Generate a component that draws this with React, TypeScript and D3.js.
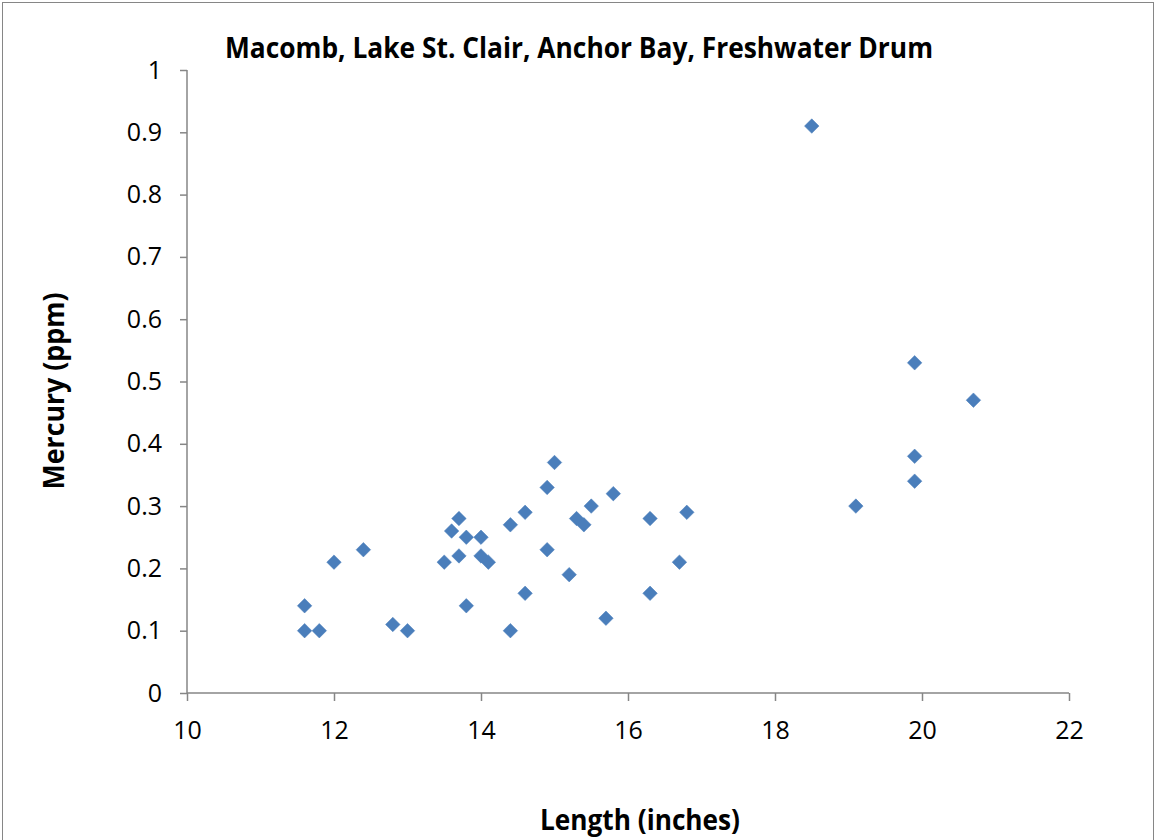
import * as d3 from 'd3';
import { useEffect, useRef } from 'react';

// Freshwater drum samples: length (in) and mercury (ppm)
const lengths = [
  11.6, 11.6, 11.8, 12.0, 12.4, 12.8, 13.0, 13.5, 13.6, 13.7, 13.7, 13.8, 13.8,
  14.0, 14.0, 14.1, 14.4, 14.4, 14.6, 14.6, 14.9, 14.9, 15.0, 15.2, 15.3, 15.4,
  15.5, 15.7, 15.8, 16.3, 16.3, 16.7, 16.8, 18.5, 19.1, 19.9, 19.9, 19.9, 20.7,
];
const mercury = [
  0.14, 0.10, 0.10, 0.21, 0.23, 0.11, 0.10, 0.21, 0.26, 0.28, 0.22, 0.25, 0.14,
  0.25, 0.22, 0.21, 0.27, 0.10, 0.29, 0.16, 0.33, 0.23, 0.37, 0.19, 0.28, 0.27,
  0.30, 0.12, 0.32, 0.28, 0.16, 0.21, 0.29, 0.91, 0.30, 0.53, 0.38, 0.34, 0.47,
];
const xTicks = [10, 12, 14, 16, 18, 20, 22];
const yTicks = [0, 0.1, 0.2, 0.3, 0.4, 0.5, 0.6, 0.7, 0.8, 0.9, 1];

const W = 1156;
const H = 840;
const font = '"Open Sans", sans-serif';

export default function App() {
  const ref = useRef<SVGSVGElement | null>(null);

  useEffect(() => {
    if (!ref.current) return;
    const svg = d3.select(ref.current);
    svg.selectAll('*').remove();

    const x = d3.scaleLinear().domain([10, 22]).range([187, 1069]);
    const y = d3.scaleLinear().domain([0, 1]).range([693, 70]);

    svg.append('rect')
      .attr('x', 0).attr('y', 0).attr('width', W).attr('height', H)
      .attr('fill', '#fff');
    // chart frame
    svg.append('rect')
      .attr('x', 2.5).attr('y', 2.5).attr('width', W - 5).attr('height', H + 10)
      .attr('fill', 'none').attr('stroke', '#868686').attr('stroke-width', 1);

    const axisColor = '#868686';

    const xAxis = svg.append('g')
      .attr('transform', `translate(0,${y(0)})`)
      .call(d3.axisBottom(x).tickValues(xTicks).tickSize(8).tickPadding(20).tickFormat(d3.format('d')));
    const yAxis = svg.append('g')
      .attr('transform', `translate(${x(10)},0)`)
      .call(d3.axisLeft(y).tickValues(yTicks).tickSize(7).tickPadding(18).tickFormat(d => String(+d)));

    [xAxis, yAxis].forEach(a => {
      a.select('.domain').attr('stroke', axisColor).attr('stroke-width', 1.5);
      a.selectAll('.tick line').attr('stroke', axisColor).attr('stroke-width', 1.5);
      a.selectAll('.tick text')
        .attr('fill', '#000')
        .style('font-family', font)
        .style('font-size', '25px');
    });
    // Excel-style axis: no outer end ticks on domain path
    xAxis.select('.domain').attr('d', `M${x(10)},0H${x(22)}`);
    yAxis.select('.domain').attr('d', `M0,${y(1)}V${y(0)}`);

    const pts = lengths.map((l, i) => ({ l, m: mercury[i] }));
    const diamond = d3.symbol().type(d3.symbolSquare).size(105);
    svg.append('g')
      .selectAll('path')
      .data(pts)
      .join('path')
      .attr('d', diamond)
      .attr('transform', d => `translate(${x(d.l)},${y(d.m)}) rotate(45)`)
      .attr('fill', '#4a7ebb')
      .attr('stroke', '#4a7ebb')
      .attr('stroke-width', 0.5);

    const title = (t: string, len: number) =>
      svg.append('text')
        .attr('text-anchor', 'middle')
        .attr('textLength', len).attr('lengthAdjust', 'spacingAndGlyphs')
        .style('font-family', font).style('font-weight', 'bold').style('font-size', '29px')
        .text(t);

    title('Macomb, Lake St. Clair, Anchor Bay, Freshwater Drum', 708)
      .attr('x', 579).attr('y', 58);
    title('Length (inches)', 200)
      .attr('x', 640).attr('y', 830);
    title('Mercury (ppm)', 197)
      .attr('transform', 'translate(64,391) rotate(-90)');
  }, []);

  return (
    <svg
      ref={ref}
      width={W}
      height={H}
      style={{ position: 'absolute', left: 0, top: 0, display: 'block' }}
    />
  );
}
